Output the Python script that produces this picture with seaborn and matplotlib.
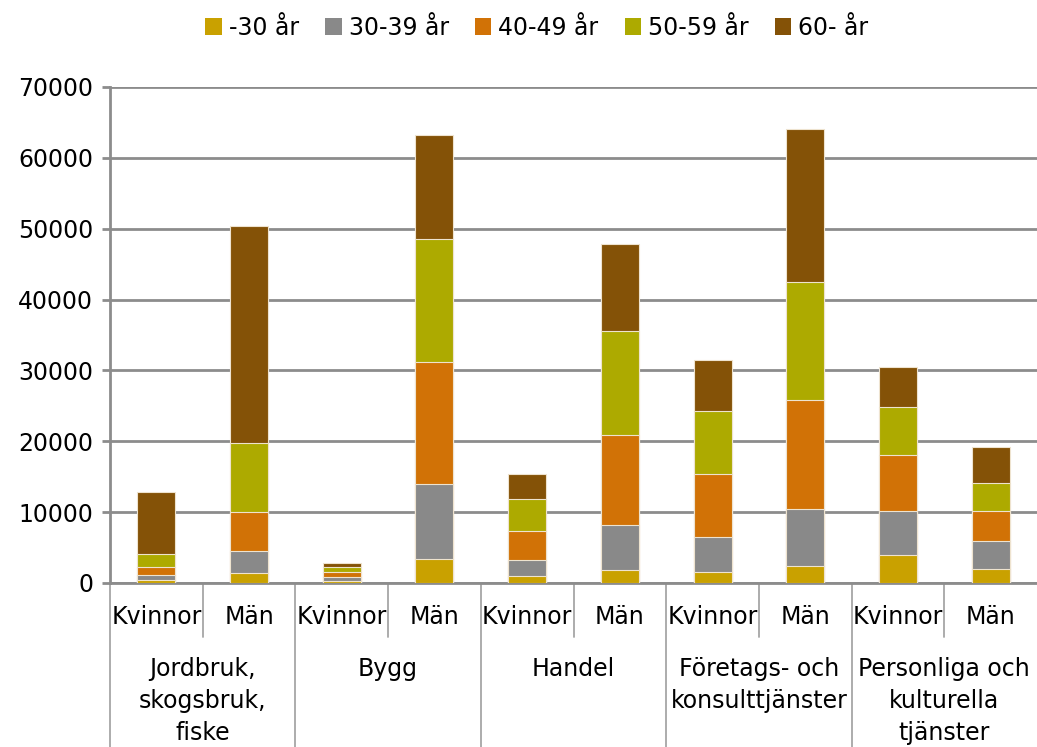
import pandas as pd
import matplotlib.pyplot as plt
import seaborn as sns
from matplotlib.patches import Patch

groups = ["Jordbruk,\nskogsbruk,\nfiske", "Bygg", "Handel",
          "Företags- och\nkonsulttjänster", "Personliga och\nkulturella\ntjänster"]
sexes = ["Kvinnor", "Män"]
age_labels = ["-30 år", "30-39 år", "40-49 år", "50-59 år", "60- år"]

# one value per bar: Jordbruk K, M, Bygg K, M, Handel K, M, Företags K, M, Personliga K, M
u30 = [400, 1450, 300, 3350, 950, 1900, 1500, 2350, 3950, 1980]
a30_39 = [700, 3050, 550, 10650, 2350, 6300, 5000, 8050, 6250, 3920]
a40_49 = [1200, 5500, 750, 17200, 4100, 12700, 8900, 15400, 7800, 4300]
a50_59 = [1800, 9800, 650, 17300, 4400, 14700, 8900, 16700, 6800, 3950]
a60 = [8800, 30600, 550, 14700, 3600, 12200, 7200, 21600, 5700, 5050]

colors = ["#C9A100", "#898989", "#D17206", "#ADAA00", "#845207"]

sns.set_theme(style="white", rc={"text.color": "black", "axes.labelcolor": "black",
                                 "ytick.color": "black"})
plt.rcParams["font.family"] = ["DejaVu Sans"]

df = pd.DataFrame({"pos": range(10), "u30": u30, "a30_39": a30_39,
                   "a40_49": a40_49, "a50_59": a50_59, "a60": a60})
cols = ["u30", "a30_39", "a40_49", "a50_59", "a60"]
cum = df[cols].cumsum(axis=1)

fig = plt.figure(figsize=(10.37, 7.47), dpi=100)
ax = fig.add_axes([110 / 1037, 164 / 747, 927 / 1037, 496 / 747])

# draw cumulative totals from the top down so the segments stack
for i in reversed(range(5)):
    sns.barplot(x=df["pos"], y=cum[cols[i]], color=colors[i], saturation=1,
                width=0.41, order=list(range(10)), edgecolor="#eee3cf",
                linewidth=0.8, ax=ax, zorder=3)

ax.set_xlim(-0.5, 9.5)
ax.set_ylim(0, 70000)
ax.set_yticks(range(0, 70001, 10000))
ax.yaxis.grid(True, color="#8c8c8c", linewidth=2)
ax.set_axisbelow(True)
ax.set_xlabel("")
ax.set_ylabel("")
ax.tick_params(axis="x", bottom=False, labelbottom=False)
ax.tick_params(axis="y", left=True, length=6, width=2, color="#8c8c8c",
               labelsize=17, labelcolor="black", pad=6)
for s in ["top", "right"]:
    ax.spines[s].set_visible(False)
for s in ["left", "bottom"]:
    ax.spines[s].set_color("#8c8c8c")
    ax.spines[s].set_linewidth(2)

# two-level category axis
tr = ax.get_xaxis_transform()
for k in range(5):
    ax.plot([2 * k - 0.5] * 2, [0, -0.331], color="#a6a6a6", lw=1.3,
            transform=tr, clip_on=False)
    ax.plot([2 * k + 0.5] * 2, [0, -0.109], color="#a6a6a6", lw=1.3,
            transform=tr, clip_on=False)
    for j, s in enumerate(sexes):
        ax.text(2 * k + j, -0.068, s, transform=tr, ha="center", va="center",
                fontsize=17, color="black")
    ax.text(2 * k + 0.5, -0.149, groups[k], transform=tr, ha="center",
            va="top", fontsize=17, linespacing=1.42, color="black")

handles = [Patch(facecolor=c, edgecolor="none") for c in colors]
fig.legend(handles, age_labels, loc="center", bbox_to_anchor=(537 / 1037, 1 - 28 / 747),
           ncol=5, frameon=False, fontsize=17, handlelength=0.7, handleheight=0.7,
           handletextpad=0.3, columnspacing=1.1, labelcolor="black")

fig.savefig("out.png", dpi=100)
